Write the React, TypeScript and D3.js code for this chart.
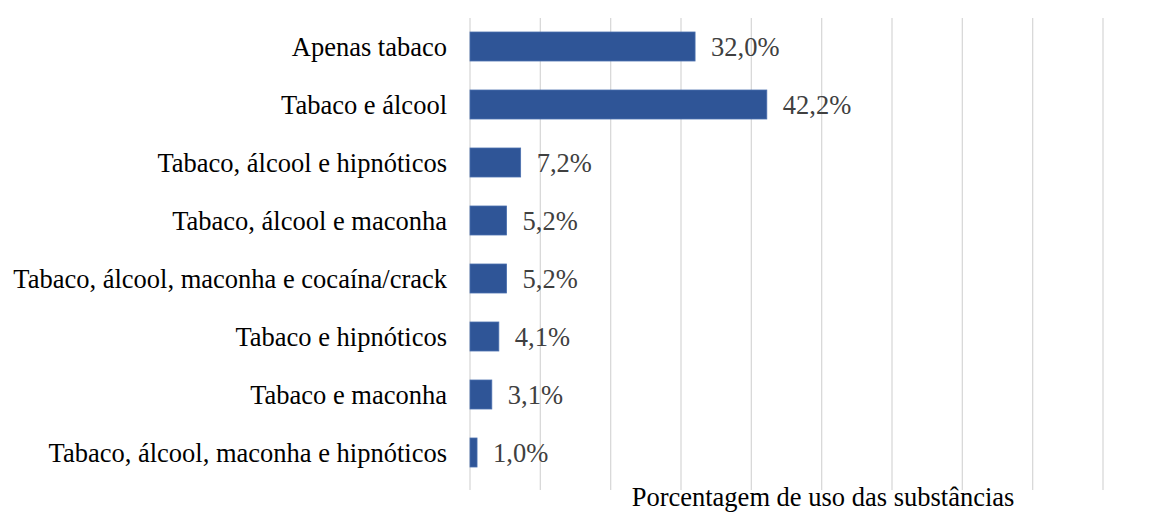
import { useEffect, useRef } from 'react'
import * as d3 from 'd3'

const categories = [
  'Apenas tabaco',
  'Tabaco e álcool',
  'Tabaco, álcool e hipnóticos',
  'Tabaco, álcool e maconha',
  'Tabaco, álcool, maconha e cocaína/crack',
  'Tabaco e hipnóticos',
  'Tabaco e maconha',
  'Tabaco, álcool, maconha e hipnóticos',
]
const values = [32.0, 42.2, 7.2, 5.2, 5.2, 4.1, 3.1, 1.0]
const gridTicks = [0, 10, 20, 30, 40, 50, 60, 70, 80, 90]
const axisTitle = 'Porcentagem de uso das substâncias'

export default function App() {
  const svgRef = useRef<SVGSVGElement>(null)

  useEffect(() => {
    if (!svgRef.current) return
    const svg = d3.select(svgRef.current)
    svg.selectAll('*').remove()

    const W = 1163
    const H = 513
    const font = "'Liberation Serif', 'Times New Roman', Times, serif"
    const size = '26.5px'

    const x = d3.scaleLinear().domain([0, 90]).range([470, 1103])
    const y = d3.scaleBand<string>().domain(categories).range([17.5, 481.5]).paddingInner(0.5).paddingOuter(0.25)

    // Grid
    svg.append('g').selectAll('line').data(gridTicks).join('line')
      .attr('x1', d => x(d)).attr('x2', d => x(d))
      .attr('y1', 18).attr('y2', 490)
      .attr('stroke', '#d9d9d9').attr('stroke-width', 1.3)

    // Bars
    svg.append('g').selectAll('rect').data(values).join('rect')
      .attr('x', x(0))
      .attr('y', (_, i) => y(categories[i])!)
      .attr('width', d => x(d) - x(0))
      .attr('height', y.bandwidth())
      .attr('fill', '#2F5597')
      .attr('stroke', '#4a6fae').attr('stroke-width', 0.8)

    // Value labels
    svg.append('g').selectAll('text').data(values).join('text')
      .attr('x', d => x(d) + 16)
      .attr('y', (_, i) => y(categories[i])! + y.bandwidth() / 2)
      .attr('dy', '0.35em')
      .attr('fill', '#404040')
      .style('font-family', font).style('font-size', size)
      .text(d => d.toFixed(1).replace('.', ',') + '%')

    // Category labels
    svg.append('g').selectAll('text').data(categories).join('text')
      .attr('x', 447)
      .attr('y', d => y(d)! + y.bandwidth() / 2)
      .attr('dy', '0.35em')
      .attr('text-anchor', 'end')
      .attr('fill', '#000')
      .style('font-family', font).style('font-size', size)
      .text(d => d)

    // Axis title
    svg.append('text')
      .attr('x', 823).attr('y', 506)
      .attr('text-anchor', 'middle')
      .attr('fill', '#000')
      .style('font-family', font).style('font-size', size)
      .text(axisTitle)

    svg.attr('width', W).attr('height', H)
  }, [])

  return (
    <svg ref={svgRef} width={1163} height={513}
      style={{ position: 'absolute', left: 0, top: 0, background: '#fff', display: 'block' }} />
  )
}
